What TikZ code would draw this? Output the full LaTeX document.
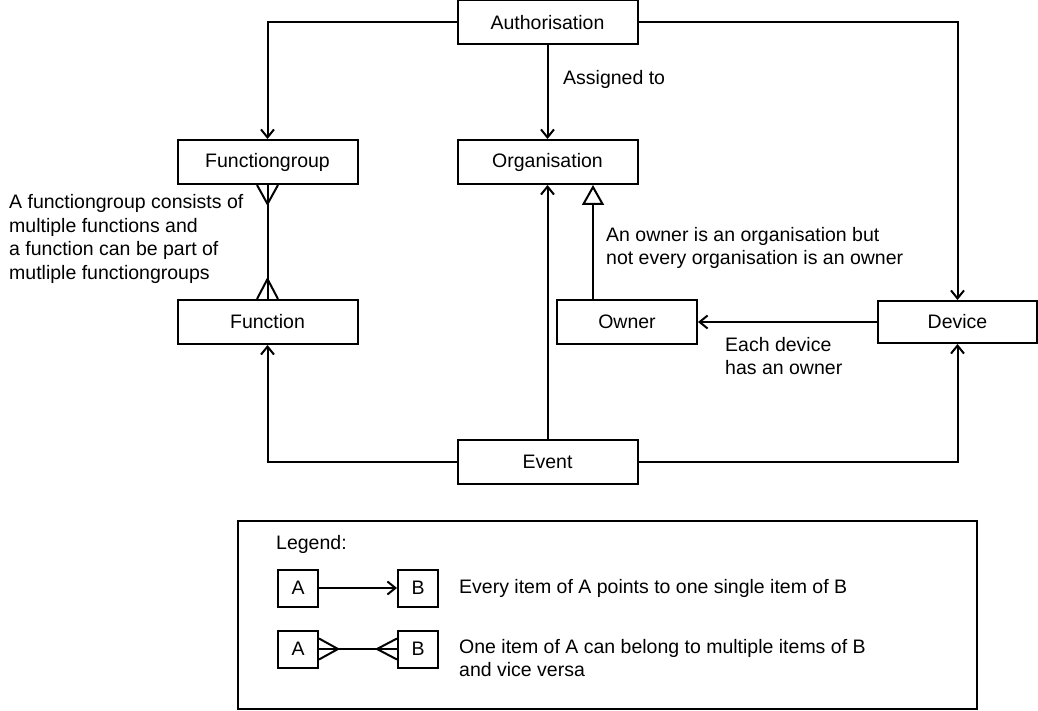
\documentclass[tikz,border=0pt]{standalone}
\usepackage{fontspec}
\setmainfont{Liberation Sans}
\usetikzlibrary{arrows.meta}
\begin{document}
\begin{tikzpicture}[x=1pt,y=-1pt,
  every node/.style={font=\fontsize{19.5}{23.5}\selectfont},
  entity/.style={draw,line width=2pt,inner sep=0pt,minimum width=180pt,minimum height=44pt},
  lbox/.style={draw,line width=2pt,inner sep=0pt,minimum width=40pt,minimum height=37pt},
  note/.style={inner sep=0pt,align=left},
  conn/.style={line width=2pt},
  arr/.style={conn,-{Straight Barb[length=8pt,width=13pt]}},
  crow/.style={line width=2pt,line join=miter},
]
\useasboundingbox (0,0) rectangle (1038,711);
\fill[white] (0,0) rectangle (1038,711);

% entities
\node[entity] (auth) at (547.5,22.5) {Authorisation};
\node[entity] (fg) at (267.5,162) {Functiongroup};
\node[entity] (org) at (547.5,162) {Organisation};
\node[entity] (func) at (267.5,322) {Function};
\node[entity,minimum width=140pt] (owner) at (627,322) {Owner};
\node[entity,minimum width=159pt,minimum height=42pt] (dev) at (957.5,322) {Device};
\node[entity] (event) at (547.5,462) {Event};

% connectors
\draw[arr] (auth.west) -| (fg.north);
\draw[arr] (auth.east) -| (dev.north);
\draw[arr] (auth.south) -- (org.north);
\draw[arr] (event.north) -- (org.south);
\draw[arr] (event.west) -| (func.south);
\draw[arr] (event.east) -| (dev.south);
\draw[arr] (dev.west) -- (owner.east);
\draw[conn,-{Triangle[open,length=20pt,width=22pt,fill=white]}] ([xshift=-34pt]owner.north) -- ([xshift=-34pt]owner.north |- org.south);

% many-to-many between functiongroup and function
\draw[conn] (fg.south) -- (func.north);
\draw[crow] ([xshift=-10.5pt]fg.south) -- ([yshift=-19pt]fg.south) -- ([xshift=10.5pt]fg.south);
\draw[crow] ([xshift=-10.5pt]func.north) -- ([yshift=20pt]func.north) -- ([xshift=10.5pt]func.north);

% labels
\node[note,anchor=west] (lassigned) at (563,79) {Assigned to};
\node[note,anchor=west] (lgroup) at (9,239) {A functiongroup consists of\\multiple functions and\\a function can be part of\\mutliple functiongroups};
\node[note,anchor=west] (lowner) at (606,248) {An owner is an organisation but\\not every organisation is an owner};
\node[note,anchor=west] (ldevice) at (725,356) {Each device\\has an owner};

% legend
\draw[line width=2pt] (238,520.5) rectangle (977,709);
\node[note,anchor=west] (legtitle) at (276,544) {Legend:};
\node[lbox] (a1) at (298,588) {A};
\node[lbox] (b1) at (418,588) {B};
\draw[arr] (a1.east) -- (b1.west);
\node[note,anchor=west] (t1) at (459,588) {Every item of A points to one single item of B};
\node[lbox] (a2) at (298,649) {A};
\node[lbox] (b2) at (418,649) {B};
\draw[conn] (a2.east) -- (b2.west);
\draw[crow] ([yshift=10.5pt]a2.east) -- ([xshift=19pt]a2.east) -- ([yshift=-10.5pt]a2.east);
\draw[crow] ([yshift=10.5pt]b2.west) -- ([xshift=-20pt]b2.west) -- ([yshift=-10.5pt]b2.west);
\node[note,anchor=west] (t2) at (459,658) {One item of A can belong to multiple items of B\\and vice versa};
\end{tikzpicture}
\end{document}
